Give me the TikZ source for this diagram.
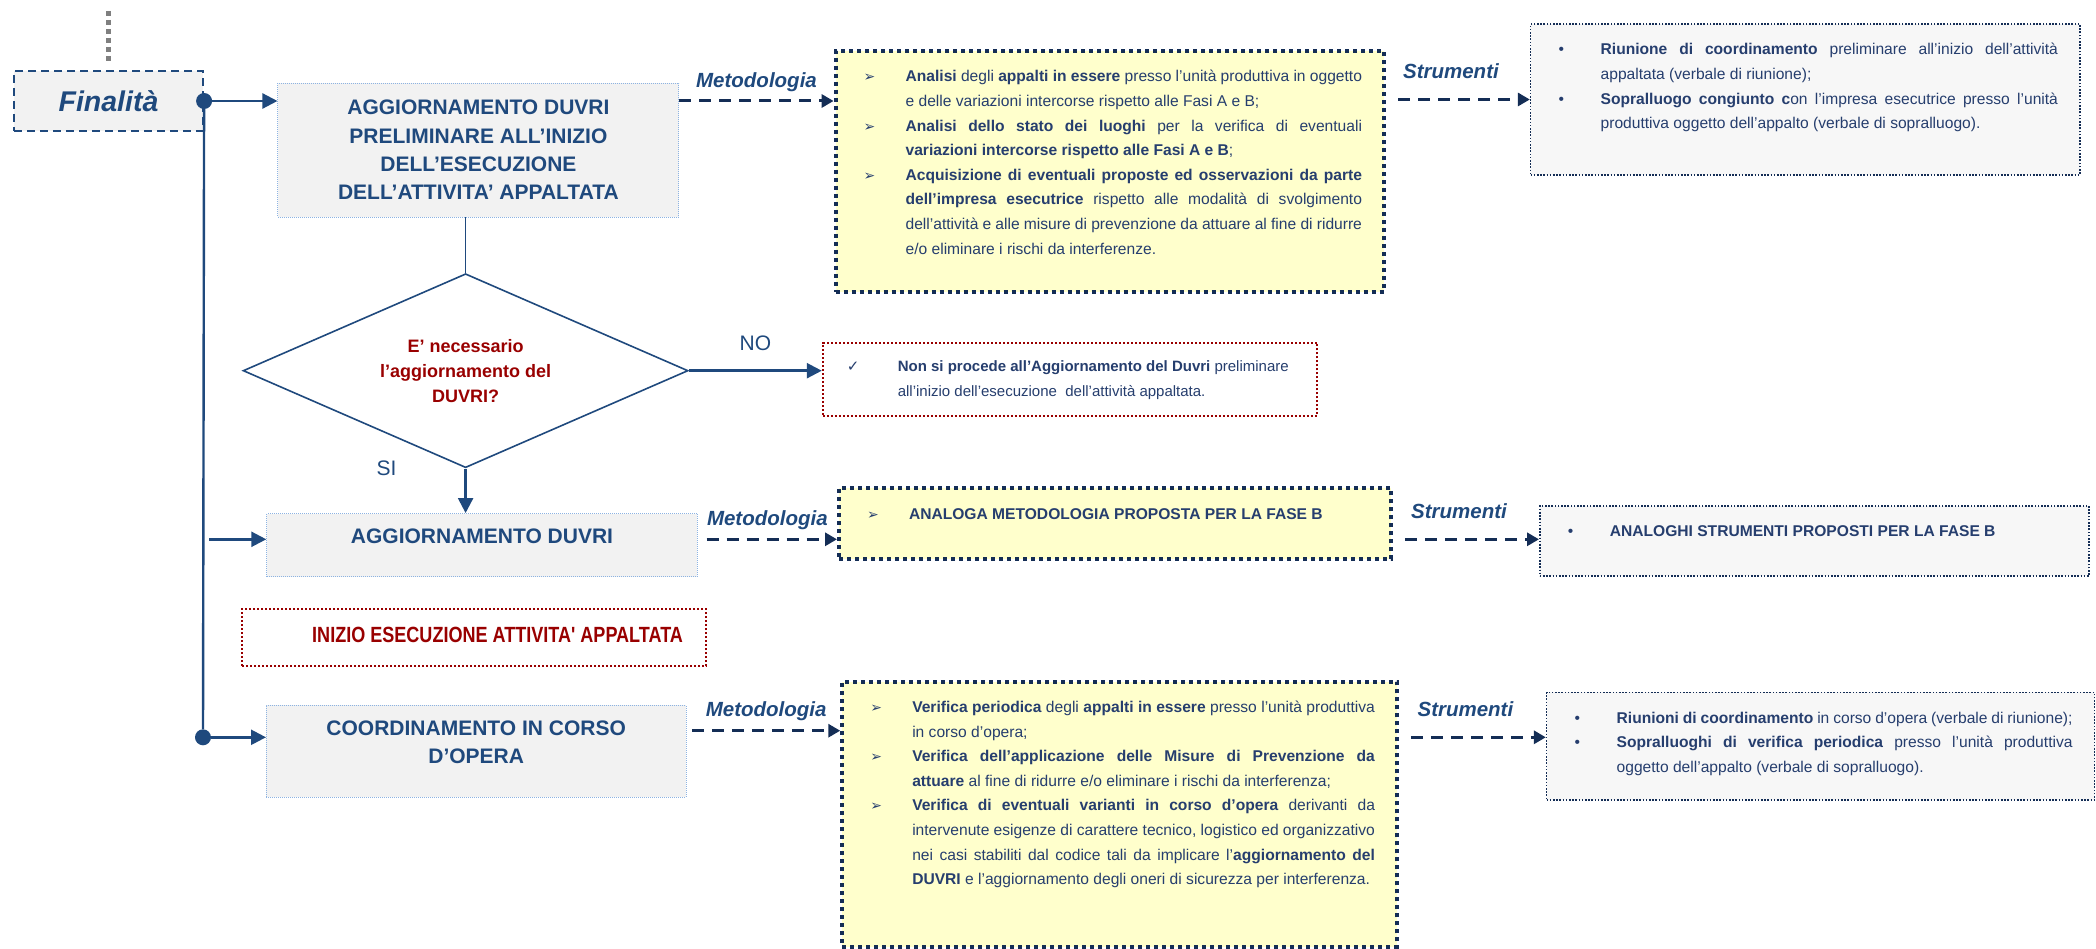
\documentclass[tikz,border=0pt]{standalone}
\usepackage{fontspec}
\setmainfont{Liberation Sans}
\newfontfamily\narrowfont{Liberation Sans}[FakeStretch=0.82]
\newfontfamily\symfont{DejaVu Sans}
\usetikzlibrary{arrows.meta,shapes.geometric}

% list item with hanging bullet
\newcommand{\pitem}[3][48pt]{\par\noindent\hangindent=#1\hangafter=1%
  \makebox[#1][l]{\strut\hspace*{6pt}#2}#3\par}
\newcommand{\arrbul}{{\symfont\fontsize{14}{14}\selectfont ➢}}
\newcommand{\tickbul}{{\symfont\fontsize{15}{15}\selectfont ✓}}
\newcommand{\dotbul}{•}
\newcommand{\bodyfont}{\fontsize{15.6}{24.6}\selectfont}

\begin{document}
\begin{tikzpicture}[x=1pt, y=-1pt,
    finbox/.style={draw=navy, fill=boxgrey, line width=2.2pt, dash pattern=on 8pt off 5pt,
        minimum width=189pt, minimum height=60pt, inner sep=0pt, text=navy,
        font=\bfseries\itshape\fontsize{28.5}{30}\selectfont},
    greybox/.style={draw=lightblue, fill=boxgrey, line width=0.9pt, dash pattern=on 1pt off 1pt, inner sep=0pt},
    title/.style={text=navy, font=\bfseries\fontsize{21}{28.3}\selectfont, align=center, inner sep=0pt},
    decision/.style={diamond, aspect=2.294, draw=navy, line width=1.6pt, minimum width=445pt, minimum height=194pt,
        inner sep=0pt, text=darkred, align=center, font=\bfseries\fontsize{18}{25}\selectfont},
    redbox/.style={draw=darkred, fill=white, line width=2pt, dash pattern=on 2pt off 2pt, inner sep=0pt},
    starttext/.style={text=darkred, font=\narrowfont\bfseries\fontsize{22}{24}\selectfont, inner sep=0pt},
    yellowbox/.style={draw=dashnavy, fill=paleyellow, line width=4pt, dash pattern=on 4pt off 4pt,
        inner xsep=22pt, inner ysep=13.6pt, text=inkblue, font=\bodyfont},
    toolbox/.style={draw=dashnavy, fill=softgrey, line width=1.6pt, dash pattern=on 1.6pt off 1.6pt,
        inner xsep=22pt, inner ysep=13.6pt, text=inkblue, font=\bodyfont},
    junction/.style={circle, fill=navy, minimum size=16pt, inner sep=0pt},
    trunk/.style={draw=navy, line width=2.4pt},
    link/.style={draw=navy, line width=1.6pt},
    flow/.style={draw=navy, line width=2.4pt, -{Triangle[length=15pt,width=15pt]}},
    dasharrow/.style={draw=dashnavy, line width=3pt, dash pattern=on 12pt off 8pt,
        -{Triangle[length=12pt,width=13pt]}},
    greydots/.style={draw=midgrey, line width=5pt, dash pattern=on 5pt off 4pt},
    steplabel/.style={text=navy, font=\bfseries\itshape\fontsize{20.5}{22}\selectfont, inner sep=2pt},
    answer/.style={text=navy, font=\fontsize{21}{22}\selectfont, inner sep=2pt}
]
    % Define colors
    \definecolor{navy}{RGB}{31,73,125}
    \definecolor{inkblue}{RGB}{38,62,110}
    \definecolor{dashnavy}{RGB}{20,45,85}
    \definecolor{darkred}{RGB}{153,0,0}
    \definecolor{boxgrey}{RGB}{242,242,242}
    \definecolor{softgrey}{RGB}{247,247,247}
    \definecolor{paleyellow}{RGB}{255,255,204}
    \definecolor{lightblue}{RGB}{141,179,226}
    \definecolor{midgrey}{RGB}{127,127,127}

    \useasboundingbox (0,0) rectangle (2096,949);

    % Left column
    \coordinate (origin) at (108.5,11);
    \node[finbox] (fin) at (108.5,101) {Finalità};
    \draw[greydots] (origin) -- ([yshift=8pt]fin.north);

    \node[greybox, title, minimum width=401pt, minimum height=134pt] (b1) at (478.4,150)
        {AGGIORNAMENTO DUVRI\\PRELIMINARE ALL'INIZIO\\DELL'ESECUZIONE\\DELL'ATTIVITA' APPALTATA};
    \node[decision] (dia) at (465.6,370.7) {E' necessario\\l'aggiornamento del\\DUVRI?};
    \node[greybox, minimum width=430.5pt, minimum height=63pt] (b2) at (482,545) {};
    \node[title] (b2t) at (482,536.7) {AGGIORNAMENTO DUVRI};
    \node[redbox, minimum width=464pt, minimum height=57pt] (start) at (474,637.7) {};
    \node[starttext] (startt) at (497.6,635) {INIZIO ESECUZIONE ATTIVITA' APPALTATA};
    \node[greybox, minimum width=419.5pt, minimum height=92pt] (b3) at (476.2,751) {};
    \node[title] (b3t) at (476.2,742.5) {COORDINAMENTO IN CORSO\\D'OPERA};

    % Trunk and branches
    \node[junction] (j1) at (fin.east) {};
    \node[junction] (j2) at (203,737.3) {};
    \coordinate (tap) at (209,539.3);
    \coordinate (tap3) at (692,730.7);
    \draw[trunk] (j1) -- (j2);
    \draw[flow] (j1) -- (j1 -| b1.west);
    \draw[flow] (tap) -- (tap -| b2.west);
    \draw[flow] (j2) -- (j2 -| b3.west);
    \draw[link] (dia.north |- b1.south) -- (dia.north);
    \draw[flow] (dia.south) -- node[answer, at start, xshift=-79pt] {SI} (dia.south |- b2.north);

    % Negative answer
    \node[redbox, inner xsep=18pt, inner ysep=12pt, text=inkblue, font=\fontsize{15}{24.6}\selectfont]
        (no) at (1069.9,379.4) {\parbox[c][49.3pt][t]{458.2pt}{%
        \pitem[57pt]{\tickbul}{\textbf{Non si procede all'Aggiornamento del Duvri} preliminare\newline
        all'inizio dell'esecuzione\ \ dell'attività appaltata.}}};
    \draw[flow] (dia.east) -- node[answer, above=17pt] {NO} (dia.east -| no.west);

    % Methods
    \node[yellowbox] (m1) at (1109.8,171.4) {\parbox[c][213.5pt][t]{504.4pt}{%
        \pitem{\arrbul}{\textbf{Analisi} degli \textbf{appalti in essere} presso l'unità produttiva in oggetto\linebreak
        e delle variazioni intercorse rispetto alle Fasi A e B;}
        \pitem{\arrbul}{\textbf{Analisi dello stato dei luoghi} per la verifica di eventuali\linebreak
        \textbf{variazioni intercorse rispetto alle Fasi A e B};}
        \pitem{\arrbul}{\textbf{Acquisizione di eventuali proposte ed osservazioni da parte}\linebreak
        \textbf{dell'impresa esecutrice} rispetto alle modalità di svolgimento\linebreak
        dell'attività e alle misure di prevenzione da attuare al fine di ridurre\linebreak
        e/o eliminare i rischi da interferenze.}}};
    \node[yellowbox] (m2) at (1115,523.8) {\parbox[c][43.8pt][t]{508pt}{%
        \pitem{\arrbul}{\textbf{ANALOGA METODOLOGIA PROPOSTA PER LA FASE B}}}};
    \node[yellowbox] (m3) at (1119.6,814.2) {\parbox[c][237.8pt][t]{510.7pt}{%
        \pitem{\arrbul}{\textbf{Verifica periodica} degli \textbf{appalti in essere} presso l'unità produttiva\linebreak
        in corso d'opera;}
        \pitem{\arrbul}{\textbf{Verifica dell'applicazione delle Misure di Prevenzione da}\linebreak
        \textbf{attuare} al fine di ridurre e/o eliminare i rischi da interferenza;}
        \pitem{\arrbul}{\textbf{Verifica di eventuali varianti in corso d'opera} derivanti da\linebreak
        intervenute esigenze di carattere tecnico, logistico ed organizzativo\linebreak
        nei casi stabiliti dal codice tali da implicare l'\textbf{aggiornamento del}\linebreak
        \textbf{DUVRI} e l'aggiornamento degli oneri di sicurezza per interferenza.}}};

    % Tools
    \node[toolbox] (s1) at (1805.3,99.5) {\parbox[c][123.8pt][t]{505.3pt}{%
        \pitem{\dotbul}{\textbf{Riunione di coordinamento} preliminare all'inizio dell'attività\linebreak
        appaltata (verbale di riunione);}
        \pitem{\dotbul}{\textbf{Sopralluogo congiunto c}on l'impresa esecutrice presso l'unità\linebreak
        produttiva oggetto dell'appalto (verbale di sopralluogo).}}};
    \node[toolbox] (s2) at (1814.4,541) {\parbox[c][42.8pt][t]{505.2pt}{%
        \pitem{\dotbul}{\textbf{ANALOGHI STRUMENTI PROPOSTI PER LA FASE B}}}};
    \node[toolbox] (s3) at (1820.6,746.2) {\parbox[c][80.5pt][t]{503.9pt}{%
        \pitem{\dotbul}{\textbf{Riunioni di coordinamento} in corso d'opera (verbale di riunione);}
        \pitem{\dotbul}{\textbf{Sopralluoghi di verifica periodica} presso l'unità produttiva\linebreak
        oggetto dell'appalto (verbale di sopralluogo).}}};

    % Dashed links
    \draw[dasharrow] (b1.east |- fin.east) -- node[steplabel, above=6pt] {Metodologia} (m1.west |- fin.east);
    \draw[dasharrow, shorten <=9pt] (b2.east |- tap) -- node[steplabel, above=6pt] {Metodologia} (m2.west |- tap);
    \draw[dasharrow] (tap3) -- node[steplabel, above=6pt] {Metodologia} (tap3 -| m3.west);
    \draw[dasharrow, shorten <=12pt] (m1.east |- s1.west) -- node[steplabel, above=17pt, xshift=-7pt] {Strumenti} (s1.west);
    \draw[dasharrow, shorten <=12pt] (m2.east |- tap) -- node[steplabel, above=17pt, xshift=-7pt] {Strumenti} (s2.west |- tap);
    \draw[dasharrow, shorten <=12pt] (m3.east |- j2) -- node[steplabel, above=17pt, xshift=-7pt] {Strumenti} (s3.west |- j2);
\end{tikzpicture}
\end{document}
